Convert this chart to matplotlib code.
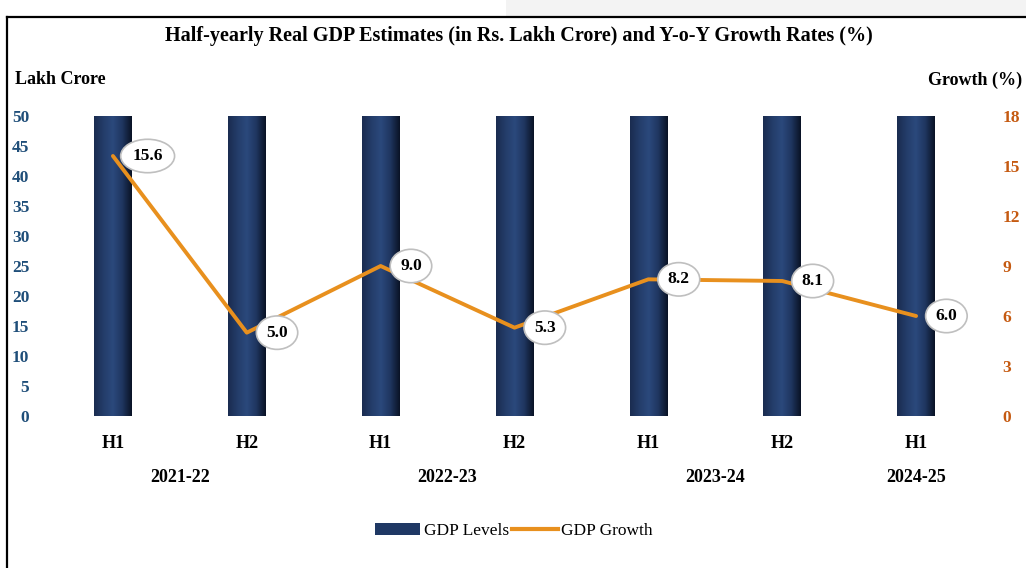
import numpy as np
import matplotlib
matplotlib.use("Agg")
import matplotlib.pyplot as plt
from matplotlib.colors import LinearSegmentedColormap
from matplotlib.lines import Line2D
from matplotlib.patches import Rectangle

plt.rcParams.update({
    "font.family": ["Liberation Serif", "DejaVu Serif"],
    "font.size": 11,
})

# ── Data ───────────────────────────────────────────────────────
halves     = ["H1", "H2", "H1", "H2", "H1", "H2", "H1"]
years      = ["2021-22", "2021-22", "2022-23", "2022-23", "2023-24", "2023-24", "2024-25"]
gdp_levels = [68.1, 79.2, 75.0, 83.8, 81.6, 90.6, 87.7]   # above axis max, clipped at 50
gdp_growth = [15.6, 5.0, 9.0, 5.3, 8.2, 8.1, 6.0]

COL_BAR   = "#1F3864"
COL_LINE  = "#E8901E"
COL_LTICK = "#1F4E79"
COL_RTICK = "#C55A11"

W, H = 1026, 568
fig = plt.figure(figsize=(W / 100, H / 100), dpi=100)

# screenshot frame
fig.patches.append(Rectangle((506 / W, 1 - 16 / H), 1, 16 / H, transform=fig.transFigure,
                             fc="#f3f3f3", ec="none", zorder=0))
fig.add_artist(Line2D([7 / W, 1], [1 - 17 / H] * 2, transform=fig.transFigure,
                      color="black", lw=1.6))
fig.add_artist(Line2D([7 / W] * 2, [0, 1 - 17 / H], transform=fig.transFigure,
                      color="black", lw=1.6))

ax = fig.add_axes([46 / W, 1 - 416 / H, (983 - 46) / W, 300 / H])
ax2 = ax.twinx()

x = np.arange(len(halves))
bar_w = 0.28
bars = ax.bar(x, gdp_levels, width=bar_w, color=COL_BAR, label="GDP Levels", zorder=2)

# cylinder-like shading on each bar
cmap = LinearSegmentedColormap.from_list(
    "cyl", ["#1a2c50", "#243d6a", "#2b497c", "#1f3660", "#0a1326"])
grad = np.linspace(0, 1, 64).reshape(1, -1)
ymax = 50
for b in bars:
    x0 = b.get_x()
    im = ax.imshow(grad, extent=[x0, x0 + b.get_width(), 0, min(b.get_height(), ymax)],
                   aspect="auto", cmap=cmap, zorder=3)
    im.set_clip_path(b)

ax.set_xlim(-0.5, len(halves) - 0.5)
ax.set_ylim(0, ymax)
ax.set_yticks(np.arange(0, 51, 5))
ax.tick_params(axis="y", length=0, pad=12, labelcolor=COL_LTICK, labelsize=12.5)
for t in ax.get_yticklabels():
    t.set_fontweight("bold")
ax.set_xticks(x)
ax.set_xticklabels(halves, fontsize=13, fontweight="bold")
ax.tick_params(axis="x", length=0, pad=14)

# year group labels
for yr in dict.fromkeys(years):
    pos = [xi for xi, y in zip(x, years) if y == yr]
    ax.text(np.mean(pos), -0.205, yr, transform=ax.get_xaxis_transform(),
            ha="center", va="center", fontsize=13, fontweight="bold")

ax2.plot(x, gdp_growth, color=COL_LINE, lw=2.8, label="GDP Growth",
         solid_capstyle="round", zorder=4)
ax2.set_ylim(0, 18)
ax2.set_yticks(np.arange(0, 19, 3))
ax2.tick_params(axis="y", length=0, pad=14, labelcolor=COL_RTICK, labelsize=12.5)
for t in ax2.get_yticklabels():
    t.set_fontweight("bold")

for xi, g in zip(x, gdp_growth):
    ax2.annotate(f"{g:.1f}", (xi, g), xytext=(14, 0), textcoords="offset points",
                 ha="left", va="center", fontsize=12.5, fontweight="bold",
                 bbox=dict(boxstyle="ellipse,pad=0.22", fc="white", ec="#bfbfbf", lw=1.2),
                 zorder=6)

for a in (ax, ax2):
    for s in a.spines.values():
        s.set_visible(False)

fig.text(519 / W, 1 - 36 / H,
         "Half-yearly Real GDP Estimates (in Rs. Lakh Crore) and Y-o-Y Growth Rates (%)",
         ha="center", va="center", fontsize=14.5, fontweight="bold")
fig.text(15 / W, 1 - 80 / H, "Lakh Crore", ha="left", va="center",
         fontsize=13, fontweight="bold")
fig.text(1022 / W, 1 - 80 / H, "Growth (%)", ha="right", va="center",
         fontsize=13, fontweight="bold")

fig.legend(handles=[bars, Line2D([0], [0], color=COL_LINE, lw=3)],
           labels=["GDP Levels", "GDP Growth"],
           loc="center", bbox_to_anchor=(514 / W, 1 - 531 / H), ncol=2,
           frameon=False, fontsize=12.5, handlelength=2.6, handletextpad=0.2,
           columnspacing=0.2)

fig.savefig("out.png", dpi=100)
